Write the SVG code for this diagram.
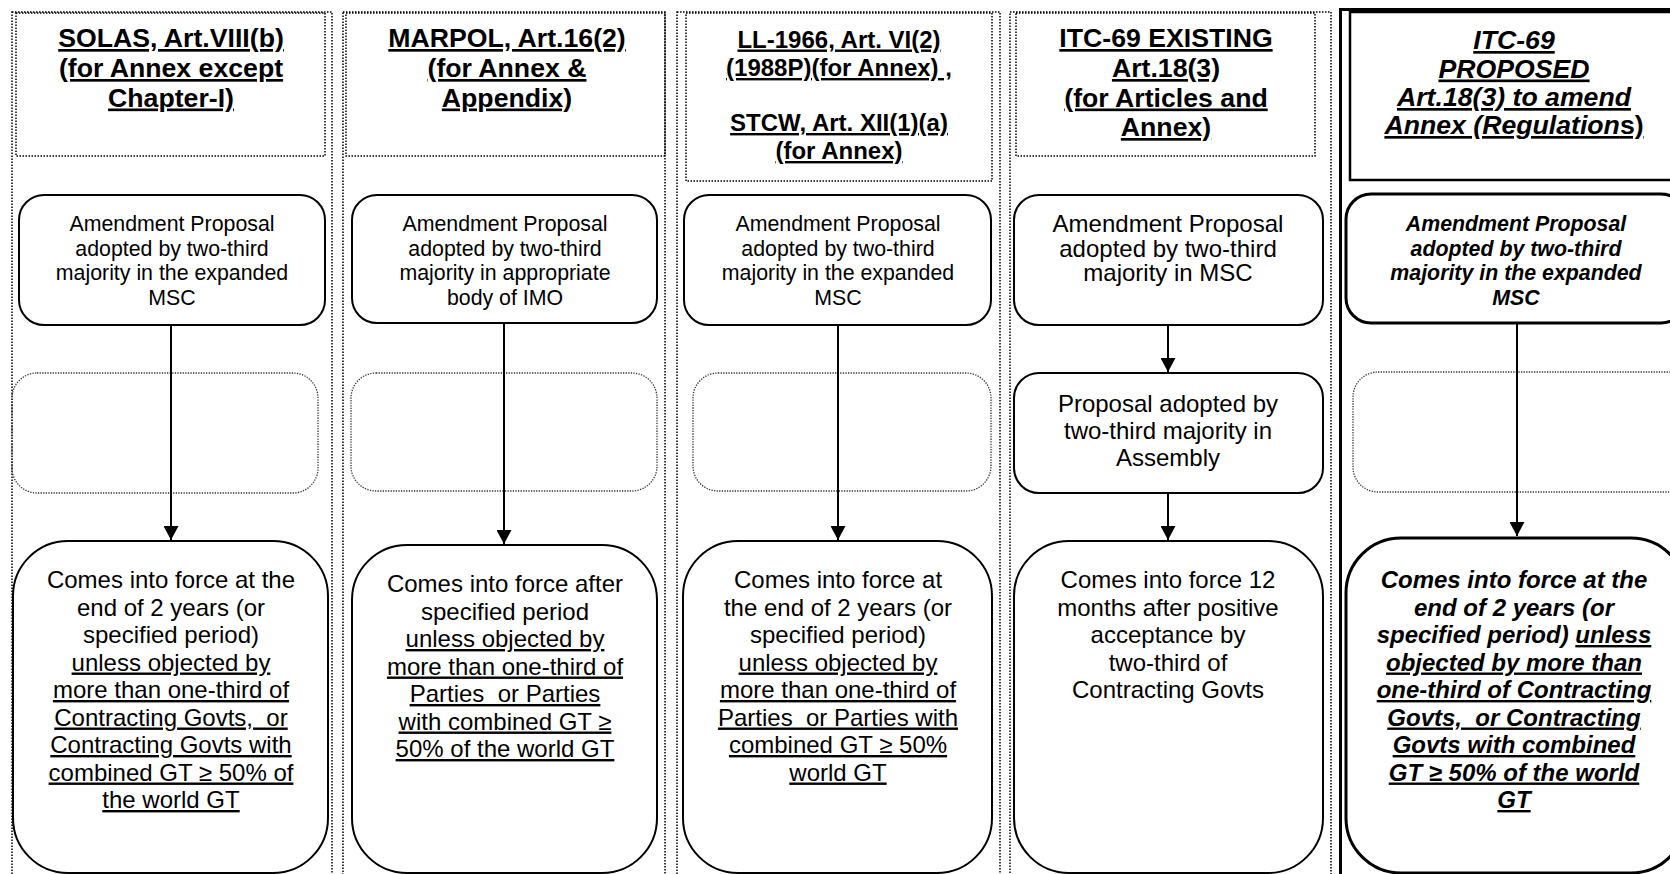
<svg xmlns="http://www.w3.org/2000/svg" width="1670" height="874" viewBox="0 0 1670 874">
<style>
.frame{fill:none;stroke:#000;stroke-width:1.5;stroke-dasharray:1.5 1.5}
.ph{fill:none;stroke:#333;stroke-width:1.3;stroke-dasharray:1.3 1.3}
.box{fill:#fff;stroke:#000;stroke-width:2}
.boxb{fill:#fff;stroke:#000;stroke-width:3}
.thick{fill:none;stroke:#000;stroke-width:3}
text{font-family:"Liberation Sans",Arial,sans-serif;text-anchor:middle;fill:#000;text-decoration-skip-ink:none}
tspan{text-decoration-skip-ink:none}
.h{font-size:26.67px;font-weight:bold;text-decoration:underline}
.h24{font-size:24px;font-weight:bold;text-decoration:underline}
.s{font-size:21.33px}
.m{font-size:24px}
.bi{font-weight:bold;font-style:italic}
.u{text-decoration:underline}
.conn{stroke:#000;stroke-width:2;fill:none}
</style>
<defs>
<marker id="arr" markerUnits="userSpaceOnUse" markerWidth="15" markerHeight="15" viewBox="0 0 14 15" refX="14" refY="7.5" orient="auto">
<path d="M0,0 L14,7.5 L0,15 z" fill="#000"/>
</marker>
</defs>
<rect width="1670" height="874" fill="#fff"/>

<g id="frames">
<rect class="frame" x="12" y="12" width="320" height="870"/>
<rect class="frame" x="343" y="12" width="322" height="870"/>
<rect class="frame" x="677" y="12" width="323" height="870"/>
<rect class="frame" x="1010" y="12" width="321" height="870"/>
<path class="thick" d="M1340.5,880 V9.5 H1680"/>
</g>

<g id="col1-header">
<rect class="frame" x="16" y="13" width="309" height="143"/>
<text class="h" x="171" y="47">SOLAS, Art.VIII(b)</text>
<text class="h" x="171" y="77">(for Annex except</text>
<text class="h" x="171" y="106.5">Chapter-I)</text>
</g>
<g id="col2-header">
<rect class="frame" x="346" y="13" width="319" height="143"/>
<text class="h" x="507" y="47">MARPOL, Art.16(2)</text>
<text class="h" x="507" y="77">(for Annex &amp;</text>
<text class="h" x="507" y="106.5">Appendix)</text>
</g>
<g id="col3-header">
<rect class="frame" x="686" y="13" width="306" height="168"/>
<text class="h24" x="839" y="47.5">LL-1966, Art. VI(2)</text>
<text class="h24" x="839" y="76">(1988P)(for Annex) ,</text>
<text class="h24" x="839" y="131">STCW, Art. XII(1)(a)</text>
<text class="h24" x="839" y="159">(for Annex)</text>
</g>
<g id="col4-header">
<rect class="frame" x="1016" y="13" width="299" height="143"/>
<text class="h" x="1166" y="47">ITC-69 EXISTING</text>
<text class="h" x="1166" y="77">Art.18(3)</text>
<text class="h" x="1166" y="106.5">(for Articles and</text>
<text class="h" x="1166" y="136">Annex)</text>
</g>
<g id="col5-header">
<rect x="1350" y="12" width="340" height="168" fill="none" stroke="#000" stroke-width="2.5"/>
<text class="h bi" x="1514" y="49">ITC-69</text>
<text class="h bi" x="1514" y="77.5">PROPOSED</text>
<text class="h bi" x="1514" y="106">Art.18(3) to amend</text>
<text class="h bi" x="1514" y="134">Annex (Regulation<tspan style="font-style:normal">s)</tspan></text>
</g>

<g id="col1-adopt">
<rect class="box" x="19" y="195" width="306" height="130" rx="25"/>
<text class="s" x="172" y="231">Amendment Proposal</text>
<text class="s" x="172" y="255.5">adopted by two-third</text>
<text class="s" x="172" y="280">majority in the expanded</text>
<text class="s" x="172" y="304.5">MSC</text>
</g>
<g id="col2-adopt">
<rect class="box" x="352" y="195" width="305" height="128" rx="25"/>
<text class="s" x="505" y="231">Amendment Proposal</text>
<text class="s" x="505" y="255.5">adopted by two-third</text>
<text class="s" x="505" y="280">majority in appropriate</text>
<text class="s" x="505" y="304.5">body of IMO</text>
</g>
<g id="col3-adopt">
<rect class="box" x="684" y="195" width="307" height="130" rx="25"/>
<text class="s" x="838" y="231">Amendment Proposal</text>
<text class="s" x="838" y="255.5">adopted by two-third</text>
<text class="s" x="838" y="280">majority in the expanded</text>
<text class="s" x="838" y="304.5">MSC</text>
</g>
<g id="col4-adopt">
<rect class="box" x="1014" y="195" width="309" height="130" rx="25"/>
<text class="m" x="1168" y="232">Amendment Proposal</text>
<text class="m" x="1168" y="256.5">adopted by two-third</text>
<text class="m" x="1168" y="281">majority in MSC</text>
</g>
<g id="col5-adopt">
<rect class="boxb" x="1346" y="194" width="340" height="129" rx="25"/>
<text class="s bi" x="1516" y="231">Amendment Proposal</text>
<text class="s bi" x="1516" y="255.5">adopted by two-third</text>
<text class="s bi" x="1516" y="280">majority in the expanded</text>
<text class="s bi" x="1516" y="304.5">MSC</text>
</g>

<g id="col1-empty"><rect class="ph" x="12" y="373" width="306" height="120" rx="25"/></g>
<g id="col2-empty"><rect class="ph" x="351" y="373" width="306" height="118" rx="25"/></g>
<g id="col3-empty"><rect class="ph" x="693" y="373" width="298" height="118" rx="25"/></g>
<g id="col4-assembly">
<rect class="box" x="1014" y="373" width="309" height="120" rx="25"/>
<text class="m" x="1168" y="412">Proposal adopted by</text>
<text class="m" x="1168" y="439">two-third majority in</text>
<text class="m" x="1168" y="466">Assembly</text>
</g>
<g id="col5-empty"><rect class="ph" x="1353" y="372" width="340" height="120" rx="25"/></g>

<g id="col1-force">
<rect class="box" x="13" y="541" width="315" height="332" rx="55"/>
<text class="m" x="171" y="588">Comes into force at the</text>
<text class="m" x="171" y="615.5">end of 2 years (or</text>
<text class="m" x="171" y="643">specified period)</text>
<text class="m u" x="171" y="670.5">unless objected by</text>
<text class="m u" x="171" y="698">more than one-third of</text>
<text class="m u" x="171" y="725.5" xml:space="preserve">Contracting Govts,  or</text>
<text class="m u" x="171" y="753">Contracting Govts with</text>
<text class="m u" x="171" y="780.5">combined GT ≥ 50% of</text>
<text class="m u" x="171" y="808">the world GT</text>
</g>
<g id="col2-force">
<rect class="box" x="352" y="545" width="305" height="328" rx="55"/>
<text class="m" x="505" y="592">Comes into force after</text>
<text class="m" x="505" y="619.5">specified period</text>
<text class="m u" x="505" y="647">unless objected by</text>
<text class="m u" x="505" y="674.5">more than one-third of</text>
<text class="m u" x="505" y="702" xml:space="preserve">Parties  or Parties</text>
<text class="m u" x="505" y="729.5">with combined GT ≥</text>
<text class="m u" x="505" y="757">50% of the world GT</text>
</g>
<g id="col3-force">
<rect class="box" x="683" y="541" width="309" height="332" rx="55"/>
<text class="m" x="838" y="588">Comes into force at</text>
<text class="m" x="838" y="615.5">the end of 2 years (or</text>
<text class="m" x="838" y="643">specified period)</text>
<text class="m u" x="838" y="670.5">unless objected by</text>
<text class="m u" x="838" y="698">more than one-third of</text>
<text class="m u" x="838" y="725.5" xml:space="preserve">Parties  or Parties with</text>
<text class="m u" x="838" y="753">combined GT ≥ 50%</text>
<text class="m u" x="838" y="780.5">world GT</text>
</g>
<g id="col4-force">
<rect class="box" x="1014" y="541" width="309" height="332" rx="55"/>
<text class="m" x="1168" y="588">Comes into force 12</text>
<text class="m" x="1168" y="615.5">months after positive</text>
<text class="m" x="1168" y="643">acceptance by</text>
<text class="m" x="1168" y="670.5">two-third of</text>
<text class="m" x="1168" y="698">Contracting Govts</text>
</g>
<g id="col5-force">
<rect class="boxb" x="1346" y="538" width="340" height="335" rx="55"/>
<text class="m bi" x="1514" y="588">Comes into force at the</text>
<text class="m bi" x="1514" y="615.5">end of 2 years (or</text>
<text class="m bi" x="1514" y="643">specified period) <tspan class="u">unless</tspan></text>
<text class="m bi u" x="1514" y="670.5">objected by more than</text>
<text class="m bi u" x="1514" y="698">one-third of Contracting</text>
<text class="m bi u" x="1514" y="725.5" xml:space="preserve">Govts,  or Contracting</text>
<text class="m bi u" x="1514" y="753">Govts with combined</text>
<text class="m bi u" x="1514" y="780.5">GT ≥ 50% of the world</text>
<text class="m bi u" x="1514" y="808">GT</text>
</g>

<g id="connectors">
<line class="conn" x1="171" y1="325" x2="171" y2="540" marker-end="url(#arr)"/>
<line class="conn" x1="504" y1="323" x2="504" y2="544" marker-end="url(#arr)"/>
<line class="conn" x1="838" y1="325" x2="838" y2="540" marker-end="url(#arr)"/>
<line class="conn" x1="1168" y1="325" x2="1168" y2="372" marker-end="url(#arr)"/>
<line class="conn" x1="1168" y1="493" x2="1168" y2="540" marker-end="url(#arr)"/>
<line class="conn" x1="1517" y1="323" x2="1517" y2="536" marker-end="url(#arr)"/>
</g>
</svg>
